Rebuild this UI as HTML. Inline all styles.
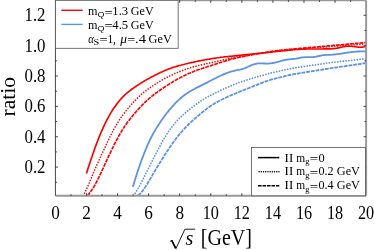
<!DOCTYPE html>
<html><head><meta charset="utf-8"><title>ratio plot</title>
<style>
html,body{margin:0;padding:0;background:#fff;}
body{width:374px;height:250px;overflow:hidden;font-family:"Liberation Serif",serif;}
svg{display:block;will-change:transform;}
text{font-family:"Liberation Serif",serif;fill:#000;}
.sans{font-family:"Liberation Sans",sans-serif;}
</style></head><body>
<svg width="374" height="250" viewBox="0 0 374 250">
<rect width="374" height="250" fill="#fff"/>
<!-- curves -->
<g stroke-linecap="butt" stroke-linejoin="round">
<path d="M138.0,195.6 L139.0,194.7 L140.0,193.8 L141.0,192.7 L142.0,191.5 L143.0,190.3 L144.0,189.0 L145.0,187.5 L146.0,186.0 L147.0,184.5 L148.0,182.8 L149.0,181.1 L150.0,179.4 L151.0,177.6 L152.0,175.9 L153.0,174.1 L154.0,172.4 L155.0,170.8 L156.0,169.1 L157.0,167.4 L158.0,165.8 L159.0,164.2 L160.0,162.6 L161.0,161.0 L162.0,159.4 L163.0,157.8 L164.0,156.2 L165.0,154.6 L166.0,153.1 L167.0,151.6 L168.0,150.0 L169.0,148.5 L170.0,147.0 L171.0,145.6 L172.0,144.1 L173.0,142.7 L174.0,141.3 L175.0,140.0 L176.0,138.6 L177.0,137.3 L178.0,136.0 L179.0,134.8 L180.0,133.6 L181.0,132.4 L182.0,131.3 L183.0,130.1 L184.0,129.1 L185.0,128.0 L186.0,127.0 L187.0,126.0 L188.0,125.0 L189.0,124.0 L190.0,123.1 L191.0,122.1 L192.0,121.2 L193.0,120.3 L194.0,119.4 L195.0,118.5 L196.0,117.6 L197.0,116.7 L198.0,115.8 L199.0,115.0 L200.0,114.1 L201.0,113.3 L202.0,112.5 L203.0,111.7 L204.0,110.9 L205.0,110.1 L206.0,109.4 L207.0,108.6 L208.0,107.9 L209.0,107.2 L210.0,106.5 L211.0,105.8 L212.0,105.2 L213.0,104.5 L214.0,103.9 L215.0,103.3 L216.0,102.7 L217.0,102.1 L218.0,101.6 L219.0,101.0 L220.0,100.5 L221.0,100.0 L222.0,99.5 L223.0,99.0 L224.0,98.5 L225.0,98.0 L226.0,97.5 L227.0,97.1 L228.0,96.6 L229.0,96.2 L230.0,95.8 L231.0,95.3 L232.0,94.9 L233.0,94.5 L234.0,94.1 L235.0,93.7 L236.0,93.3 L237.0,92.8 L238.0,92.4 L239.0,92.0 L240.0,91.6 L241.0,91.2 L242.0,90.8 L243.0,90.4 L244.0,90.0 L245.0,89.6 L246.0,89.2 L247.0,88.8 L248.0,88.4 L249.0,88.0 L250.0,87.6 L251.0,87.2 L252.0,86.8 L253.0,86.4 L254.0,86.0 L255.0,85.6 L256.0,85.2 L257.0,84.8 L258.0,84.4 L259.0,84.0 L260.0,83.6 L261.0,83.2 L262.0,82.8 L263.0,82.4 L264.0,82.1 L265.0,81.7 L266.0,81.3 L267.0,81.0 L268.0,80.7 L269.0,80.3 L270.0,80.0 L271.0,79.7 L272.0,79.4 L273.0,79.1 L274.0,78.9 L275.0,78.6 L276.0,78.4 L277.0,78.1 L278.0,77.9 L279.0,77.6 L280.0,77.4 L281.0,77.1 L282.0,76.9 L283.0,76.6 L284.0,76.4 L285.0,76.1 L286.0,75.9 L287.0,75.7 L288.0,75.4 L289.0,75.2 L290.0,75.0 L291.0,74.8 L292.0,74.6 L293.0,74.4 L294.0,74.2 L295.0,74.0 L296.0,73.8 L297.0,73.6 L298.0,73.5 L299.0,73.3 L300.0,73.1 L301.0,73.0 L302.0,72.8 L303.0,72.7 L304.0,72.5 L305.0,72.3 L306.0,72.2 L307.0,72.0 L308.0,71.9 L309.0,71.7 L310.0,71.5 L311.0,71.4 L312.0,71.2 L313.0,71.1 L314.0,70.9 L315.0,70.8 L316.0,70.6 L317.0,70.4 L318.0,70.3 L319.0,70.1 L320.0,70.0 L321.0,69.8 L322.0,69.6 L323.0,69.5 L324.0,69.3 L325.0,69.2 L326.0,69.0 L327.0,68.8 L328.0,68.7 L329.0,68.5 L330.0,68.4 L331.0,68.2 L332.0,68.1 L333.0,67.9 L334.0,67.8 L335.0,67.6 L336.0,67.5 L337.0,67.3 L338.0,67.2 L339.0,67.0 L340.0,66.9 L341.0,66.7 L342.0,66.6 L343.0,66.4 L344.0,66.3 L345.0,66.2 L346.0,66.0 L347.0,65.9 L348.0,65.7 L349.0,65.6 L350.0,65.4 L351.0,65.3 L352.0,65.1 L353.0,65.0 L354.0,64.8 L355.0,64.7 L356.0,64.5 L357.0,64.4 L358.0,64.3 L359.0,64.1 L360.0,64.0 L361.0,63.8 L362.0,63.7 L363.0,63.5 L364.0,63.4 L365.0,63.2 L366.0,63.1" fill="none" stroke="#5e92ea" stroke-width="1.8" stroke-dasharray="3.85 0.9"/>
<path d="M133.7,195.6 L134.7,194.0 L135.7,192.4 L136.7,190.7 L137.7,189.0 L138.7,187.3 L139.7,185.5 L140.7,183.6 L141.7,181.7 L142.7,179.8 L143.7,177.9 L144.7,175.9 L145.7,173.9 L146.7,171.9 L147.7,169.9 L148.7,167.9 L149.7,165.9 L150.7,163.9 L151.7,161.9 L152.7,160.0 L153.7,158.0 L154.7,156.1 L155.7,154.1 L156.7,152.2 L157.7,150.3 L158.7,148.4 L159.7,146.5 L160.7,144.7 L161.7,142.9 L162.7,141.1 L163.7,139.3 L164.7,137.6 L165.7,136.0 L166.7,134.4 L167.7,132.8 L168.7,131.3 L169.7,129.8 L170.7,128.4 L171.7,127.1 L172.7,125.8 L173.7,124.6 L174.7,123.4 L175.7,122.2 L176.7,121.1 L177.7,120.1 L178.7,119.0 L179.7,118.0 L180.7,117.1 L181.7,116.1 L182.7,115.2 L183.7,114.3 L184.7,113.5 L185.7,112.6 L186.7,111.8 L187.7,110.9 L188.7,110.1 L189.7,109.3 L190.7,108.5 L191.7,107.7 L192.7,106.9 L193.7,106.1 L194.7,105.4 L195.7,104.6 L196.7,103.9 L197.7,103.2 L198.7,102.5 L199.7,101.8 L200.7,101.1 L201.7,100.4 L202.7,99.8 L203.7,99.2 L204.7,98.6 L205.7,98.0 L206.7,97.4 L207.7,96.9 L208.7,96.3 L209.7,95.8 L210.7,95.3 L211.7,94.8 L212.7,94.3 L213.7,93.8 L214.7,93.3 L215.7,92.8 L216.7,92.3 L217.7,91.8 L218.7,91.3 L219.7,90.9 L220.7,90.4 L221.7,89.9 L222.7,89.5 L223.7,89.0 L224.7,88.6 L225.7,88.1 L226.7,87.7 L227.7,87.2 L228.7,86.8 L229.7,86.4 L230.7,85.9 L231.7,85.5 L232.7,85.1 L233.7,84.7 L234.7,84.3 L235.7,83.9 L236.7,83.5 L237.7,83.1 L238.7,82.7 L239.7,82.4 L240.7,82.0 L241.7,81.7 L242.7,81.3 L243.7,81.0 L244.7,80.7 L245.7,80.3 L246.7,80.0 L247.7,79.7 L248.7,79.4 L249.7,79.1 L250.7,78.8 L251.7,78.5 L252.7,78.2 L253.7,77.9 L254.7,77.6 L255.7,77.3 L256.7,77.0 L257.7,76.7 L258.7,76.4 L259.7,76.1 L260.7,75.8 L261.7,75.5 L262.7,75.3 L263.7,75.0 L264.7,74.7 L265.7,74.4 L266.7,74.2 L267.7,73.9 L268.7,73.6 L269.7,73.4 L270.7,73.1 L271.7,72.9 L272.7,72.6 L273.7,72.4 L274.7,72.2 L275.7,71.9 L276.7,71.7 L277.7,71.4 L278.7,71.2 L279.7,71.0 L280.7,70.7 L281.7,70.5 L282.7,70.3 L283.7,70.1 L284.7,69.9 L285.7,69.7 L286.7,69.5 L287.7,69.3 L288.7,69.1 L289.7,68.9 L290.7,68.7 L291.7,68.5 L292.7,68.3 L293.7,68.1 L294.7,68.0 L295.7,67.8 L296.7,67.6 L297.7,67.5 L298.7,67.3 L299.7,67.1 L300.7,67.0 L301.7,66.8 L302.7,66.7 L303.7,66.5 L304.7,66.4 L305.7,66.2 L306.7,66.1 L307.7,65.9 L308.7,65.8 L309.7,65.6 L310.7,65.5 L311.7,65.4 L312.7,65.2 L313.7,65.1 L314.7,64.9 L315.7,64.8 L316.7,64.6 L317.7,64.5 L318.7,64.3 L319.7,64.2 L320.7,64.1 L321.7,63.9 L322.7,63.8 L323.7,63.6 L324.7,63.5 L325.7,63.3 L326.7,63.2 L327.7,63.1 L328.7,62.9 L329.7,62.8 L330.7,62.7 L331.7,62.5 L332.7,62.4 L333.7,62.3 L334.7,62.2 L335.7,62.1 L336.7,62.0 L337.7,61.9 L338.7,61.8 L339.7,61.6 L340.7,61.5 L341.7,61.4 L342.7,61.3 L343.7,61.2 L344.7,61.1 L345.7,61.0 L346.7,60.9 L347.7,60.8 L348.7,60.7 L349.7,60.6 L350.7,60.5 L351.7,60.4 L352.7,60.3 L353.7,60.2 L354.7,60.1 L355.7,59.9 L356.7,59.8 L357.7,59.7 L358.7,59.6 L359.7,59.5 L360.7,59.4 L361.7,59.3 L362.7,59.2 L363.7,59.1 L364.7,59.0 L366.0,58.9" fill="none" stroke="#5e92ea" stroke-width="1.8" stroke-dasharray="0.01 2.8" stroke-linecap="round"/>
<path d="M132.9,186.7 L133.9,183.4 L134.9,180.1 L135.9,176.9 L136.9,173.8 L137.9,170.8 L138.9,167.8 L139.9,164.9 L140.9,162.0 L141.9,159.3 L142.9,156.6 L143.9,154.0 L144.9,151.4 L145.9,149.0 L146.9,146.6 L147.9,144.4 L148.9,142.2 L149.9,140.1 L150.9,138.0 L151.9,136.1 L152.9,134.2 L153.9,132.4 L154.9,130.6 L155.9,128.9 L156.9,127.3 L157.9,125.7 L158.9,124.2 L159.9,122.7 L160.9,121.2 L161.9,119.8 L162.9,118.4 L163.9,117.0 L164.9,115.6 L165.9,114.3 L166.9,113.0 L167.9,111.8 L168.9,110.5 L169.9,109.3 L170.9,108.1 L171.9,107.0 L172.9,105.8 L173.9,104.8 L174.9,103.7 L175.9,102.7 L176.9,101.7 L177.9,100.7 L178.9,99.8 L179.9,98.9 L180.9,98.0 L181.9,97.1 L182.9,96.3 L183.9,95.5 L184.9,94.8 L185.9,94.1 L186.9,93.4 L187.9,92.7 L188.9,92.1 L189.9,91.5 L190.9,90.9 L191.9,90.3 L192.9,89.7 L193.9,89.2 L194.9,88.7 L195.9,88.1 L196.9,87.6 L197.9,87.1 L198.9,86.6 L199.9,86.1 L200.9,85.6 L201.9,85.1 L202.9,84.6 L203.9,84.1 L204.9,83.6 L205.9,83.1 L206.9,82.6 L207.9,82.1 L208.9,81.5 L209.9,81.0 L210.9,80.5 L211.9,80.0 L212.9,79.5 L213.9,79.0 L214.9,78.5 L215.9,78.0 L216.9,77.5 L217.9,77.0 L218.9,76.5 L219.9,76.0 L220.9,75.5 L221.9,75.1 L222.9,74.6 L223.9,74.2 L224.9,73.8 L225.9,73.4 L226.9,73.0 L227.9,72.6 L228.9,72.3 L229.9,71.9 L230.9,71.6 L231.9,71.3 L232.9,71.1 L233.9,70.8 L234.9,70.6 L235.9,70.4 L236.9,70.1 L237.9,69.9 L238.9,69.8 L239.9,69.6 L240.9,69.3 L241.9,69.1 L242.9,68.8 L243.9,68.5 L244.9,68.1 L245.9,67.7 L246.9,67.3 L247.9,66.8 L248.9,66.3 L249.9,65.9 L250.9,65.4 L251.9,65.0 L252.9,64.6 L253.9,64.3 L254.9,64.0 L255.9,63.8 L256.9,63.6 L257.9,63.4 L258.9,63.3 L259.9,63.3 L260.9,63.3 L261.9,63.3 L262.9,63.4 L263.9,63.5 L264.9,63.5 L265.9,63.6 L266.9,63.6 L267.9,63.6 L268.9,63.5 L269.9,63.4 L270.9,63.3 L271.9,63.2 L272.9,63.0 L273.9,62.8 L274.9,62.6 L275.9,62.4 L276.9,62.1 L277.9,61.9 L278.9,61.6 L279.9,61.3 L280.9,61.0 L281.9,60.7 L282.9,60.5 L283.9,60.2 L284.9,60.0 L285.9,59.8 L286.9,59.6 L287.9,59.5 L288.9,59.4 L289.9,59.3 L290.9,59.2 L291.9,59.1 L292.9,59.0 L293.9,58.9 L294.9,58.8 L295.9,58.7 L296.9,58.5 L297.9,58.3 L298.9,58.1 L299.9,57.9 L300.9,57.7 L301.9,57.5 L302.9,57.4 L303.9,57.3 L304.9,57.2 L305.9,57.2 L306.9,57.2 L307.9,57.2 L308.9,57.2 L309.9,57.2 L310.9,57.2 L311.9,57.2 L312.9,57.1 L313.9,57.0 L314.9,56.8 L315.9,56.7 L316.9,56.5 L317.9,56.2 L318.9,56.0 L319.9,55.8 L320.9,55.6 L321.9,55.4 L322.9,55.2 L323.9,55.1 L324.9,55.0 L325.9,54.9 L326.9,54.9 L327.9,54.9 L328.9,54.8 L329.9,54.8 L330.9,54.8 L331.9,54.7 L332.9,54.6 L333.9,54.5 L334.9,54.4 L335.9,54.3 L336.9,54.2 L337.9,54.1 L338.9,53.9 L339.9,53.8 L340.9,53.6 L341.9,53.5 L342.9,53.3 L343.9,53.1 L344.9,53.0 L345.9,52.8 L346.9,52.7 L347.9,52.5 L348.9,52.4 L349.9,52.3 L350.9,52.1 L351.9,52.0 L352.9,51.9 L353.9,51.8 L354.9,51.7 L355.9,51.6 L356.9,51.6 L357.9,51.5 L358.9,51.5 L359.9,51.4 L360.9,51.4 L361.9,51.4 L362.9,51.4 L363.9,51.4 L364.9,51.4 L365.9,51.4 L366.0,51.4" fill="none" stroke="#5e92ea" stroke-width="1.8"/>
<path d="M87.6,195.6 L88.6,194.4 L89.6,193.1 L90.6,191.8 L91.6,190.3 L92.6,188.8 L93.6,187.2 L94.6,185.5 L95.6,183.7 L96.6,181.9 L97.6,179.9 L98.6,177.9 L99.6,175.8 L100.6,173.7 L101.6,171.5 L102.6,169.3 L103.6,167.1 L104.6,164.9 L105.6,162.8 L106.6,160.6 L107.6,158.4 L108.6,156.3 L109.6,154.2 L110.6,152.1 L111.6,150.0 L112.6,148.0 L113.6,145.9 L114.6,143.9 L115.6,142.0 L116.6,140.1 L117.6,138.2 L118.6,136.4 L119.6,134.6 L120.6,132.8 L121.6,131.2 L122.6,129.5 L123.6,128.0 L124.6,126.4 L125.6,124.9 L126.6,123.5 L127.6,122.1 L128.6,120.8 L129.6,119.5 L130.6,118.2 L131.6,116.9 L132.6,115.7 L133.6,114.5 L134.6,113.4 L135.6,112.2 L136.6,111.1 L137.6,110.0 L138.6,108.9 L139.6,107.8 L140.6,106.8 L141.6,105.7 L142.6,104.7 L143.6,103.7 L144.6,102.7 L145.6,101.7 L146.6,100.8 L147.6,99.9 L148.6,99.0 L149.6,98.1 L150.6,97.3 L151.6,96.4 L152.6,95.6 L153.6,94.8 L154.6,94.1 L155.6,93.3 L156.6,92.6 L157.6,91.9 L158.6,91.2 L159.6,90.5 L160.6,89.8 L161.6,89.1 L162.6,88.4 L163.6,87.7 L164.6,87.0 L165.6,86.4 L166.6,85.7 L167.6,85.1 L168.6,84.5 L169.6,83.8 L170.6,83.2 L171.6,82.6 L172.6,82.0 L173.6,81.4 L174.6,80.8 L175.6,80.2 L176.6,79.6 L177.6,79.1 L178.6,78.5 L179.6,78.0 L180.6,77.4 L181.6,76.9 L182.6,76.4 L183.6,75.9 L184.6,75.4 L185.6,75.0 L186.6,74.5 L187.6,74.0 L188.6,73.6 L189.6,73.2 L190.6,72.7 L191.6,72.3 L192.6,71.9 L193.6,71.5 L194.6,71.1 L195.6,70.7 L196.6,70.4 L197.6,70.0 L198.6,69.6 L199.6,69.3 L200.6,68.9 L201.6,68.6 L202.6,68.3 L203.6,67.9 L204.6,67.6 L205.6,67.3 L206.6,67.0 L207.6,66.6 L208.6,66.3 L209.6,66.0 L210.6,65.7 L211.6,65.4 L212.6,65.0 L213.6,64.7 L214.6,64.4 L215.6,64.1 L216.6,63.8 L217.6,63.4 L218.6,63.1 L219.6,62.8 L220.6,62.5 L221.6,62.2 L222.6,61.8 L223.6,61.5 L224.6,61.2 L225.6,60.9 L226.6,60.6 L227.6,60.3 L228.6,60.0 L229.6,59.7 L230.6,59.4 L231.6,59.2 L232.6,58.9 L233.6,58.6 L234.6,58.4 L235.6,58.2 L236.6,57.9 L237.6,57.7 L238.6,57.5 L239.6,57.3 L240.6,57.1 L241.6,56.9 L242.6,56.7 L243.6,56.5 L244.6,56.3 L245.6,56.1 L246.6,55.9 L247.6,55.7 L248.6,55.5 L249.6,55.3 L250.6,55.1 L251.6,54.9 L252.6,54.7 L253.6,54.5 L254.6,54.3 L255.6,54.1 L256.6,53.9 L257.6,53.8 L258.6,53.6 L259.6,53.4 L260.6,53.2 L261.6,53.0 L262.6,52.9 L263.6,52.7 L264.6,52.5 L265.6,52.4 L266.6,52.2 L267.6,52.0 L268.6,51.9 L269.6,51.7 L270.6,51.6 L271.6,51.4 L272.6,51.3 L273.6,51.1 L274.6,51.0 L275.6,50.8 L276.6,50.7 L277.6,50.6 L278.6,50.5 L279.6,50.3 L280.6,50.2 L281.6,50.1 L282.6,50.0 L283.6,49.9 L284.6,49.8 L285.6,49.7 L286.6,49.6 L287.6,49.5 L288.6,49.4 L289.6,49.3 L290.6,49.2 L291.6,49.1 L292.6,49.0 L293.6,48.9 L294.6,48.9 L295.6,48.8 L296.6,48.7 L297.6,48.6 L298.6,48.5 L299.6,48.4 L300.6,48.3 L301.6,48.2 L302.6,48.1 L303.6,48.1 L304.6,48.0 L305.6,47.9 L306.6,47.8 L307.6,47.7 L308.6,47.6 L309.6,47.5 L310.6,47.4 L311.6,47.3 L312.6,47.3 L313.6,47.2 L314.6,47.1 L315.6,47.0 L316.6,46.9 L317.6,46.8 L318.6,46.7 L319.6,46.6 L320.6,46.5 L321.6,46.5 L322.6,46.4 L323.6,46.3 L324.6,46.2 L325.6,46.1 L326.6,46.0 L327.6,45.9 L328.6,45.8 L329.6,45.7 L330.6,45.7 L331.6,45.6 L332.6,45.5 L333.6,45.4 L334.6,45.3 L335.6,45.2 L336.6,45.1 L337.6,45.0 L338.6,44.9 L339.6,44.9 L340.6,44.8 L341.6,44.7 L342.6,44.6 L343.6,44.5 L344.6,44.4 L345.6,44.3 L346.6,44.2 L347.6,44.1 L348.6,44.1 L349.6,44.0 L350.6,43.9 L351.6,43.8 L352.6,43.7 L353.6,43.6 L354.6,43.5 L355.6,43.4 L356.6,43.3 L357.6,43.3 L358.6,43.2 L359.6,43.1 L360.6,43.0 L361.6,42.9 L362.6,42.8 L363.6,42.7 L364.6,42.6 L366.0,42.5" fill="none" stroke="#ff0000" stroke-width="1.65" stroke-dasharray="3.85 0.9"/>
<path d="M83.2,195.7 L84.2,193.8 L85.2,191.8 L86.2,189.7 L87.2,187.6 L88.2,185.3 L89.2,183.0 L90.2,180.6 L91.2,178.2 L92.2,175.8 L93.2,173.4 L94.2,171.0 L95.2,168.7 L96.2,166.4 L97.2,164.2 L98.2,162.0 L99.2,159.8 L100.2,157.6 L101.2,155.5 L102.2,153.3 L103.2,151.1 L104.2,149.0 L105.2,146.9 L106.2,144.7 L107.2,142.6 L108.2,140.5 L109.2,138.4 L110.2,136.4 L111.2,134.4 L112.2,132.5 L113.2,130.6 L114.2,128.7 L115.2,126.9 L116.2,125.2 L117.2,123.5 L118.2,121.9 L119.2,120.3 L120.2,118.8 L121.2,117.3 L122.2,115.9 L123.2,114.5 L124.2,113.2 L125.2,111.9 L126.2,110.6 L127.2,109.4 L128.2,108.2 L129.2,107.0 L130.2,105.8 L131.2,104.7 L132.2,103.5 L133.2,102.4 L134.2,101.4 L135.2,100.3 L136.2,99.3 L137.2,98.3 L138.2,97.3 L139.2,96.3 L140.2,95.4 L141.2,94.5 L142.2,93.7 L143.2,92.8 L144.2,92.0 L145.2,91.2 L146.2,90.5 L147.2,89.7 L148.2,89.0 L149.2,88.3 L150.2,87.6 L151.2,87.0 L152.2,86.3 L153.2,85.6 L154.2,85.0 L155.2,84.3 L156.2,83.7 L157.2,83.0 L158.2,82.4 L159.2,81.8 L160.2,81.1 L161.2,80.5 L162.2,79.9 L163.2,79.4 L164.2,78.8 L165.2,78.2 L166.2,77.7 L167.2,77.2 L168.2,76.7 L169.2,76.2 L170.2,75.7 L171.2,75.2 L172.2,74.8 L173.2,74.3 L174.2,73.9 L175.2,73.4 L176.2,73.0 L177.2,72.6 L178.2,72.2 L179.2,71.7 L180.2,71.3 L181.2,70.9 L182.2,70.6 L183.2,70.2 L184.2,69.8 L185.2,69.5 L186.2,69.1 L187.2,68.8 L188.2,68.4 L189.2,68.1 L190.2,67.8 L191.2,67.5 L192.2,67.2 L193.2,66.9 L194.2,66.7 L195.2,66.4 L196.2,66.1 L197.2,65.9 L198.2,65.6 L199.2,65.4 L200.2,65.1 L201.2,64.9 L202.2,64.7 L203.2,64.4 L204.2,64.2 L205.2,64.0 L206.2,63.7 L207.2,63.5 L208.2,63.3 L209.2,63.1 L210.2,62.8 L211.2,62.6 L212.2,62.4 L213.2,62.1 L214.2,61.9 L215.2,61.7 L216.2,61.5 L217.2,61.2 L218.2,61.0 L219.2,60.8 L220.2,60.6 L221.2,60.3 L222.2,60.1 L223.2,59.9 L224.2,59.6 L225.2,59.4 L226.2,59.2 L227.2,59.0 L228.2,58.7 L229.2,58.5 L230.2,58.3 L231.2,58.1 L232.2,57.9 L233.2,57.7 L234.2,57.5 L235.2,57.3 L236.2,57.1 L237.2,56.9 L238.2,56.8 L239.2,56.6 L240.2,56.4 L241.2,56.3 L242.2,56.1 L243.2,55.9 L244.2,55.8 L245.2,55.6 L246.2,55.5 L247.2,55.3 L248.2,55.1 L249.2,55.0 L250.2,54.8 L251.2,54.7 L252.2,54.5 L253.2,54.4 L254.2,54.2 L255.2,54.1 L256.2,54.0 L257.2,53.8 L258.2,53.7 L259.2,53.5 L260.2,53.4 L261.2,53.2 L262.2,53.1 L263.2,53.0 L264.2,52.8 L265.2,52.7 L266.2,52.5 L267.2,52.4 L268.2,52.2 L269.2,52.1 L270.2,52.0 L271.2,51.8 L272.2,51.7 L273.2,51.5 L274.2,51.4 L275.2,51.3 L276.2,51.1 L277.2,51.0 L278.2,50.8 L279.2,50.7 L280.2,50.6 L281.2,50.5 L282.2,50.4 L283.2,50.2 L284.2,50.1 L285.2,50.0 L286.2,49.9 L287.2,49.9 L288.2,49.8 L289.2,49.7 L290.2,49.6 L291.2,49.5 L292.2,49.5 L293.2,49.4 L294.2,49.3 L295.2,49.2 L296.2,49.2 L297.2,49.1 L298.2,49.0 L299.2,48.9 L300.2,48.9 L301.2,48.8 L302.2,48.7 L303.2,48.6 L304.2,48.6 L305.2,48.5 L306.2,48.4 L307.2,48.3 L308.2,48.3 L309.2,48.2 L310.2,48.1 L311.2,48.0 L312.2,48.0 L313.2,47.9 L314.2,47.8 L315.2,47.7 L316.2,47.7 L317.2,47.6 L318.2,47.5 L319.2,47.4 L320.2,47.4 L321.2,47.3 L322.2,47.2 L323.2,47.1 L324.2,47.1 L325.2,47.0 L326.2,46.9 L327.2,46.8 L328.2,46.8 L329.2,46.7 L330.2,46.6 L331.2,46.5 L332.2,46.5 L333.2,46.4 L334.2,46.3 L335.2,46.2 L336.2,46.2 L337.2,46.1 L338.2,46.0 L339.2,45.9 L340.2,45.9 L341.2,45.8 L342.2,45.7 L343.2,45.6 L344.2,45.6 L345.2,45.5 L346.2,45.4 L347.2,45.3 L348.2,45.3 L349.2,45.2 L350.2,45.1 L351.2,45.0 L352.2,45.0 L353.2,44.9 L354.2,44.8 L355.2,44.7 L356.2,44.7 L357.2,44.6 L358.2,44.5 L359.2,44.4 L360.2,44.4 L361.2,44.3 L362.2,44.2 L363.2,44.1 L364.2,44.1 L365.2,44.0 L366.0,43.9" fill="none" stroke="#ff0000" stroke-width="1.65" stroke-dasharray="0.01 2.8" stroke-linecap="round"/>
<path d="M86.4,173.6 L87.4,170.4 L88.4,167.3 L89.4,164.2 L90.4,161.2 L91.4,158.2 L92.4,155.3 L93.4,152.4 L94.4,149.6 L95.4,146.8 L96.4,144.1 L97.4,141.5 L98.4,138.9 L99.4,136.4 L100.4,134.0 L101.4,131.6 L102.4,129.3 L103.4,127.1 L104.4,125.0 L105.4,122.9 L106.4,120.9 L107.4,119.0 L108.4,117.1 L109.4,115.4 L110.4,113.6 L111.4,111.9 L112.4,110.3 L113.4,108.8 L114.4,107.3 L115.4,105.9 L116.4,104.5 L117.4,103.2 L118.4,101.9 L119.4,100.7 L120.4,99.5 L121.4,98.4 L122.4,97.4 L123.4,96.3 L124.4,95.4 L125.4,94.4 L126.4,93.5 L127.4,92.7 L128.4,91.9 L129.4,91.1 L130.4,90.3 L131.4,89.5 L132.4,88.8 L133.4,88.1 L134.4,87.4 L135.4,86.7 L136.4,86.0 L137.4,85.4 L138.4,84.7 L139.4,84.1 L140.4,83.4 L141.4,82.8 L142.4,82.2 L143.4,81.6 L144.4,81.0 L145.4,80.4 L146.4,79.8 L147.4,79.3 L148.4,78.7 L149.4,78.2 L150.4,77.6 L151.4,77.1 L152.4,76.6 L153.4,76.0 L154.4,75.5 L155.4,75.0 L156.4,74.5 L157.4,74.0 L158.4,73.5 L159.4,73.1 L160.4,72.6 L161.4,72.1 L162.4,71.7 L163.4,71.2 L164.4,70.8 L165.4,70.3 L166.4,69.9 L167.4,69.5 L168.4,69.1 L169.4,68.7 L170.4,68.4 L171.4,68.0 L172.4,67.6 L173.4,67.3 L174.4,67.0 L175.4,66.7 L176.4,66.4 L177.4,66.1 L178.4,65.8 L179.4,65.5 L180.4,65.2 L181.4,65.0 L182.4,64.7 L183.4,64.5 L184.4,64.2 L185.4,64.0 L186.4,63.7 L187.4,63.5 L188.4,63.3 L189.4,63.0 L190.4,62.8 L191.4,62.6 L192.4,62.4 L193.4,62.2 L194.4,61.9 L195.4,61.7 L196.4,61.5 L197.4,61.3 L198.4,61.1 L199.4,60.9 L200.4,60.7 L201.4,60.5 L202.4,60.3 L203.4,60.1 L204.4,60.0 L205.4,59.8 L206.4,59.6 L207.4,59.4 L208.4,59.2 L209.4,59.1 L210.4,58.9 L211.4,58.7 L212.4,58.6 L213.4,58.4 L214.4,58.3 L215.4,58.1 L216.4,58.0 L217.4,57.8 L218.4,57.7 L219.4,57.5 L220.4,57.4 L221.4,57.3 L222.4,57.2 L223.4,57.0 L224.4,56.9 L225.4,56.8 L226.4,56.7 L227.4,56.6 L228.4,56.5 L229.4,56.4 L230.4,56.3 L231.4,56.2 L232.4,56.1 L233.4,56.0 L234.4,55.9 L235.4,55.8 L236.4,55.6 L237.4,55.5 L238.4,55.4 L239.4,55.3 L240.4,55.2 L241.4,55.1 L242.4,55.0 L243.4,54.9 L244.4,54.8 L245.4,54.7 L246.4,54.6 L247.4,54.5 L248.4,54.4 L249.4,54.3 L250.4,54.2 L251.4,54.1 L252.4,54.0 L253.4,53.9 L254.4,53.8 L255.4,53.7 L256.4,53.6 L257.4,53.5 L258.4,53.4 L259.4,53.3 L260.4,53.2 L261.4,53.1 L262.4,53.0 L263.4,52.9 L264.4,52.8 L265.4,52.7 L266.4,52.6 L267.4,52.5 L268.4,52.4 L269.4,52.3 L270.4,52.2 L271.4,52.1 L272.4,52.0 L273.4,51.8 L274.4,51.7 L275.4,51.6 L276.4,51.5 L277.4,51.4 L278.4,51.3 L279.4,51.2 L280.4,51.1 L281.4,51.0 L282.4,50.9 L283.4,50.8 L284.4,50.7 L285.4,50.6 L286.4,50.5 L287.4,50.4 L288.4,50.3 L289.4,50.2 L290.4,50.1 L291.4,50.0 L292.4,49.9 L293.4,49.8 L294.4,49.7 L295.4,49.6 L296.4,49.5 L297.4,49.5 L298.4,49.4 L299.4,49.3 L300.4,49.3 L301.4,49.2 L302.4,49.2 L303.4,49.1 L304.4,49.1 L305.4,49.1 L306.4,49.0 L307.4,49.0 L308.4,49.0 L309.4,49.0 L310.4,49.0 L311.4,49.0 L312.4,49.0 L313.4,49.0 L314.4,49.0 L315.4,49.0 L316.4,49.0 L317.4,49.0 L318.4,49.0 L319.4,49.0 L320.4,49.0 L321.4,49.0 L322.4,49.0 L323.4,48.9 L324.4,48.9 L325.4,48.9 L326.4,48.9 L327.4,48.9 L328.4,48.8 L329.4,48.8 L330.4,48.8 L331.4,48.8 L332.4,48.7 L333.4,48.6 L334.4,48.5 L335.4,48.4 L336.4,48.3 L337.4,48.1 L338.4,47.9 L339.4,47.7 L340.4,47.5 L341.4,47.2 L342.4,47.0 L343.4,46.8 L344.4,46.6 L345.4,46.4 L346.4,46.3 L347.4,46.2 L348.4,46.1 L349.4,46.2 L350.4,46.2 L351.4,46.3 L352.4,46.4 L353.4,46.5 L354.4,46.7 L355.4,46.8 L356.4,46.9 L357.4,47.0 L358.4,47.1 L359.4,47.2 L360.4,47.2 L361.4,47.1 L362.4,47.1 L363.4,47.0 L364.4,46.8 L365.4,46.6 L366.0,46.5" fill="none" stroke="#ff0000" stroke-width="1.65"/>
</g>
<!-- frame -->
<g stroke="#999" stroke-width="2" fill="none">
<line x1="55.45" y1="195.85" x2="366.11" y2="195.85"/>
<line x1="366.11" y1="0.3" x2="366.11" y2="195.85"/>
<line x1="55.45" y1="0.3" x2="366.11" y2="0.3"/>
</g>
<line x1="55.45" y1="0.3" x2="55.45" y2="195.85" stroke="#505050" stroke-width="1.05"/>
<g stroke="#222" stroke-width="0.8">
<line x1="70.98" y1="195.85" x2="70.98" y2="194.25"/>
<line x1="70.98" y1="0.3" x2="70.98" y2="1.9000000000000001"/>
<line x1="86.52" y1="195.85" x2="86.52" y2="193.25"/>
<line x1="86.52" y1="0.3" x2="86.52" y2="2.9"/>
<line x1="102.05" y1="195.85" x2="102.05" y2="194.25"/>
<line x1="102.05" y1="0.3" x2="102.05" y2="1.9000000000000001"/>
<line x1="117.58" y1="195.85" x2="117.58" y2="193.25"/>
<line x1="117.58" y1="0.3" x2="117.58" y2="2.9"/>
<line x1="133.12" y1="195.85" x2="133.12" y2="194.25"/>
<line x1="133.12" y1="0.3" x2="133.12" y2="1.9000000000000001"/>
<line x1="148.65" y1="195.85" x2="148.65" y2="193.25"/>
<line x1="148.65" y1="0.3" x2="148.65" y2="2.9"/>
<line x1="164.18" y1="195.85" x2="164.18" y2="194.25"/>
<line x1="164.18" y1="0.3" x2="164.18" y2="1.9000000000000001"/>
<line x1="179.71" y1="195.85" x2="179.71" y2="193.25"/>
<line x1="179.71" y1="0.3" x2="179.71" y2="2.9"/>
<line x1="195.25" y1="195.85" x2="195.25" y2="194.25"/>
<line x1="195.25" y1="0.3" x2="195.25" y2="1.9000000000000001"/>
<line x1="210.78" y1="195.85" x2="210.78" y2="193.25"/>
<line x1="210.78" y1="0.3" x2="210.78" y2="2.9"/>
<line x1="226.31" y1="195.85" x2="226.31" y2="194.25"/>
<line x1="226.31" y1="0.3" x2="226.31" y2="1.9000000000000001"/>
<line x1="241.85" y1="195.85" x2="241.85" y2="193.25"/>
<line x1="241.85" y1="0.3" x2="241.85" y2="2.9"/>
<line x1="257.38" y1="195.85" x2="257.38" y2="194.25"/>
<line x1="257.38" y1="0.3" x2="257.38" y2="1.9000000000000001"/>
<line x1="272.91" y1="195.85" x2="272.91" y2="193.25"/>
<line x1="272.91" y1="0.3" x2="272.91" y2="2.9"/>
<line x1="288.44" y1="195.85" x2="288.44" y2="194.25"/>
<line x1="288.44" y1="0.3" x2="288.44" y2="1.9000000000000001"/>
<line x1="303.98" y1="195.85" x2="303.98" y2="193.25"/>
<line x1="303.98" y1="0.3" x2="303.98" y2="2.9"/>
<line x1="319.51" y1="195.85" x2="319.51" y2="194.25"/>
<line x1="319.51" y1="0.3" x2="319.51" y2="1.9000000000000001"/>
<line x1="335.04" y1="195.85" x2="335.04" y2="193.25"/>
<line x1="335.04" y1="0.3" x2="335.04" y2="2.9"/>
<line x1="350.58" y1="195.85" x2="350.58" y2="194.25"/>
<line x1="350.58" y1="0.3" x2="350.58" y2="1.9000000000000001"/>
<line x1="55.45" y1="182.28" x2="57.050000000000004" y2="182.28"/>
<line x1="366.11" y1="182.28" x2="364.51" y2="182.28"/>
<line x1="55.45" y1="167.10" x2="58.050000000000004" y2="167.10"/>
<line x1="366.11" y1="167.10" x2="363.51" y2="167.10"/>
<line x1="55.45" y1="151.92" x2="57.050000000000004" y2="151.92"/>
<line x1="366.11" y1="151.92" x2="364.51" y2="151.92"/>
<line x1="55.45" y1="136.74" x2="58.050000000000004" y2="136.74"/>
<line x1="366.11" y1="136.74" x2="363.51" y2="136.74"/>
<line x1="55.45" y1="121.56" x2="57.050000000000004" y2="121.56"/>
<line x1="366.11" y1="121.56" x2="364.51" y2="121.56"/>
<line x1="55.45" y1="106.38" x2="58.050000000000004" y2="106.38"/>
<line x1="366.11" y1="106.38" x2="363.51" y2="106.38"/>
<line x1="55.45" y1="91.20" x2="57.050000000000004" y2="91.20"/>
<line x1="366.11" y1="91.20" x2="364.51" y2="91.20"/>
<line x1="55.45" y1="76.02" x2="58.050000000000004" y2="76.02"/>
<line x1="366.11" y1="76.02" x2="363.51" y2="76.02"/>
<line x1="55.45" y1="60.84" x2="57.050000000000004" y2="60.84"/>
<line x1="366.11" y1="60.84" x2="364.51" y2="60.84"/>
<line x1="55.45" y1="45.66" x2="58.050000000000004" y2="45.66"/>
<line x1="366.11" y1="45.66" x2="363.51" y2="45.66"/>
<line x1="55.45" y1="30.48" x2="57.050000000000004" y2="30.48"/>
<line x1="366.11" y1="30.48" x2="364.51" y2="30.48"/>
<line x1="55.45" y1="15.30" x2="58.050000000000004" y2="15.30"/>
<line x1="366.11" y1="15.30" x2="363.51" y2="15.30"/>
</g>
<!-- legend top-left -->
<rect x="55.45" y="0.3" width="122.7" height="48.0" fill="#fff" stroke="#555" stroke-width="0.8"/>
<line x1="61.3" y1="10.3" x2="82.7" y2="10.3" stroke="#ff0000" stroke-width="1.4"/>
<line x1="61.3" y1="24.4" x2="82.7" y2="24.4" stroke="#5e92ea" stroke-width="1.4"/>
<g font-size="12.4px">
<text x="87.9" y="15.0" textLength="9.5" lengthAdjust="spacingAndGlyphs">m</text>
<text x="97.4" y="17.0" textLength="7.0" lengthAdjust="spacingAndGlyphs" font-size="8px" class="sans">Q</text>
<text x="104.5" y="16.5" textLength="8.3" lengthAdjust="spacingAndGlyphs">=</text>
<text x="112.3" y="15.0" textLength="15.9" lengthAdjust="spacingAndGlyphs">1.3</text>
<text x="130.8" y="15.0" textLength="22.9" lengthAdjust="spacingAndGlyphs">GeV</text>
<text x="87.9" y="28.7" textLength="9.5" lengthAdjust="spacingAndGlyphs">m</text>
<text x="97.4" y="30.7" textLength="7.0" lengthAdjust="spacingAndGlyphs" font-size="8px" class="sans">Q</text>
<text x="104.5" y="30.2" textLength="8.3" lengthAdjust="spacingAndGlyphs">=</text>
<text x="112.3" y="28.7" textLength="15.9" lengthAdjust="spacingAndGlyphs">4.5</text>
<text x="130.8" y="28.7" textLength="22.9" lengthAdjust="spacingAndGlyphs">GeV</text>
<text x="88.2" y="42.5" textLength="5.6" lengthAdjust="spacingAndGlyphs" font-style="italic">α</text>
<text x="93.5" y="44.5" textLength="5.7" lengthAdjust="spacingAndGlyphs" font-size="9px">S</text>
<text x="99.4" y="44.0" textLength="8.1" lengthAdjust="spacingAndGlyphs">=</text>
<text x="107.4" y="42.5" textLength="8.6" lengthAdjust="spacingAndGlyphs">1,</text>
<text x="120.2" y="42.5" textLength="6.8" lengthAdjust="spacingAndGlyphs" font-style="italic">μ</text>
<text x="127.2" y="44.0" textLength="8.0" lengthAdjust="spacingAndGlyphs">=</text>
<text x="135.0" y="42.5" textLength="10.9" lengthAdjust="spacingAndGlyphs">.4</text>
<text x="148.6" y="42.5" textLength="23.3" lengthAdjust="spacingAndGlyphs">GeV</text>
</g>
<!-- legend bottom-right -->
<rect x="251.5" y="147.5" width="114.0" height="48.3" fill="#fff" stroke="#555" stroke-width="0.8"/>
<line x1="258" y1="157.6" x2="279.3" y2="157.6" stroke="#000" stroke-width="1.5"/>
<line x1="259.1" y1="171.75" x2="279.3" y2="171.75" stroke="#000" stroke-width="1.5" stroke-linecap="round" stroke-dasharray="0.01 2.19"/>
<line x1="258" y1="185.7" x2="279.3" y2="185.7" stroke="#000" stroke-width="1.5" stroke-dasharray="3.6 0.9"/>
<g font-size="12.4px">
<text x="284.6" y="161.9" textLength="8.6" lengthAdjust="spacingAndGlyphs">II</text>
<text x="296.2" y="161.9" textLength="8.9" lengthAdjust="spacingAndGlyphs">m</text>
<text x="305.3" y="164.3" textLength="4.2" lengthAdjust="spacingAndGlyphs" font-size="7.5px">g</text>
<text x="309.8" y="163.4" textLength="8.5" lengthAdjust="spacingAndGlyphs">=</text>
<text x="318.5" y="161.9">0</text>
<text x="284.6" y="175.3" textLength="8.6" lengthAdjust="spacingAndGlyphs">II</text>
<text x="296.2" y="175.3" textLength="8.9" lengthAdjust="spacingAndGlyphs">m</text>
<text x="305.3" y="177.7" textLength="4.2" lengthAdjust="spacingAndGlyphs" font-size="7.5px">g</text>
<text x="309.8" y="176.8" textLength="8.5" lengthAdjust="spacingAndGlyphs">=</text>
<text x="318.5" y="175.3" textLength="15.2" lengthAdjust="spacingAndGlyphs">0.2</text>
<text x="336.8" y="175.3" textLength="23.2" lengthAdjust="spacingAndGlyphs">GeV</text>
<text x="284.6" y="189.1" textLength="8.6" lengthAdjust="spacingAndGlyphs">II</text>
<text x="296.2" y="189.1" textLength="8.9" lengthAdjust="spacingAndGlyphs">m</text>
<text x="305.3" y="191.5" textLength="4.2" lengthAdjust="spacingAndGlyphs" font-size="7.5px">g</text>
<text x="309.8" y="190.6" textLength="8.5" lengthAdjust="spacingAndGlyphs">=</text>
<text x="318.5" y="189.1" textLength="15.2" lengthAdjust="spacingAndGlyphs">0.4</text>
<text x="336.8" y="189.1" textLength="23.2" lengthAdjust="spacingAndGlyphs">GeV</text>
</g>
<!-- tick labels -->
<g font-size="16.4px">
<text x="51.2" y="218.7" font-size="18.4px" textLength="8.6" lengthAdjust="spacingAndGlyphs">0</text>
<text x="82.2" y="218.7" font-size="18.4px" textLength="8.6" lengthAdjust="spacingAndGlyphs">2</text>
<text x="113.3" y="218.7" font-size="18.4px" textLength="8.6" lengthAdjust="spacingAndGlyphs">4</text>
<text x="144.3" y="218.7" font-size="18.4px" textLength="8.6" lengthAdjust="spacingAndGlyphs">6</text>
<text x="175.4" y="218.7" font-size="18.4px" textLength="8.6" lengthAdjust="spacingAndGlyphs">8</text>
<text x="202.7" y="218.7" font-size="18.4px" textLength="16.2" lengthAdjust="spacingAndGlyphs">10</text>
<text x="233.7" y="218.7" font-size="18.4px" textLength="16.2" lengthAdjust="spacingAndGlyphs">12</text>
<text x="264.8" y="218.7" font-size="18.4px" textLength="16.2" lengthAdjust="spacingAndGlyphs">14</text>
<text x="295.9" y="218.7" font-size="18.4px" textLength="16.2" lengthAdjust="spacingAndGlyphs">16</text>
<text x="326.9" y="218.7" font-size="18.4px" textLength="16.2" lengthAdjust="spacingAndGlyphs">18</text>
<text x="358.0" y="218.7" font-size="18.4px" textLength="16.2" lengthAdjust="spacingAndGlyphs">20</text>
<text x="24.5" y="173.1" font-size="18px" textLength="21" lengthAdjust="spacingAndGlyphs">0.2</text>
<text x="24.5" y="142.7" font-size="18px" textLength="21" lengthAdjust="spacingAndGlyphs">0.4</text>
<text x="24.5" y="112.4" font-size="18px" textLength="21" lengthAdjust="spacingAndGlyphs">0.6</text>
<text x="24.5" y="82.0" font-size="18px" textLength="21" lengthAdjust="spacingAndGlyphs">0.8</text>
<text x="24.5" y="51.7" font-size="18px" textLength="21" lengthAdjust="spacingAndGlyphs">1.0</text>
<text x="24.5" y="21.3" font-size="18px" textLength="21" lengthAdjust="spacingAndGlyphs">1.2</text>
</g>
<!-- axis labels -->
<text font-size="20px" transform="translate(14.5,96.7) rotate(-90)" x="-19.7" y="0" textLength="39.4" lengthAdjust="spacingAndGlyphs">ratio</text>
<path d="M169.9,241.5 L171.9,240.2 L175.9,248.7 L184.9,229.2 L195.2,229.2" fill="none" stroke="#000" stroke-width="0.9" stroke-linejoin="miter"/>
<path d="M171.7,240.4 L175.6,248.2" fill="none" stroke="#000" stroke-width="1.7"/>
<text x="185.6" y="244.7" font-size="20px" font-style="italic">s</text>
<text x="200.8" y="244.8" font-size="23px" textLength="51.2" lengthAdjust="spacingAndGlyphs">[GeV]</text>
</svg>
</body></html>
